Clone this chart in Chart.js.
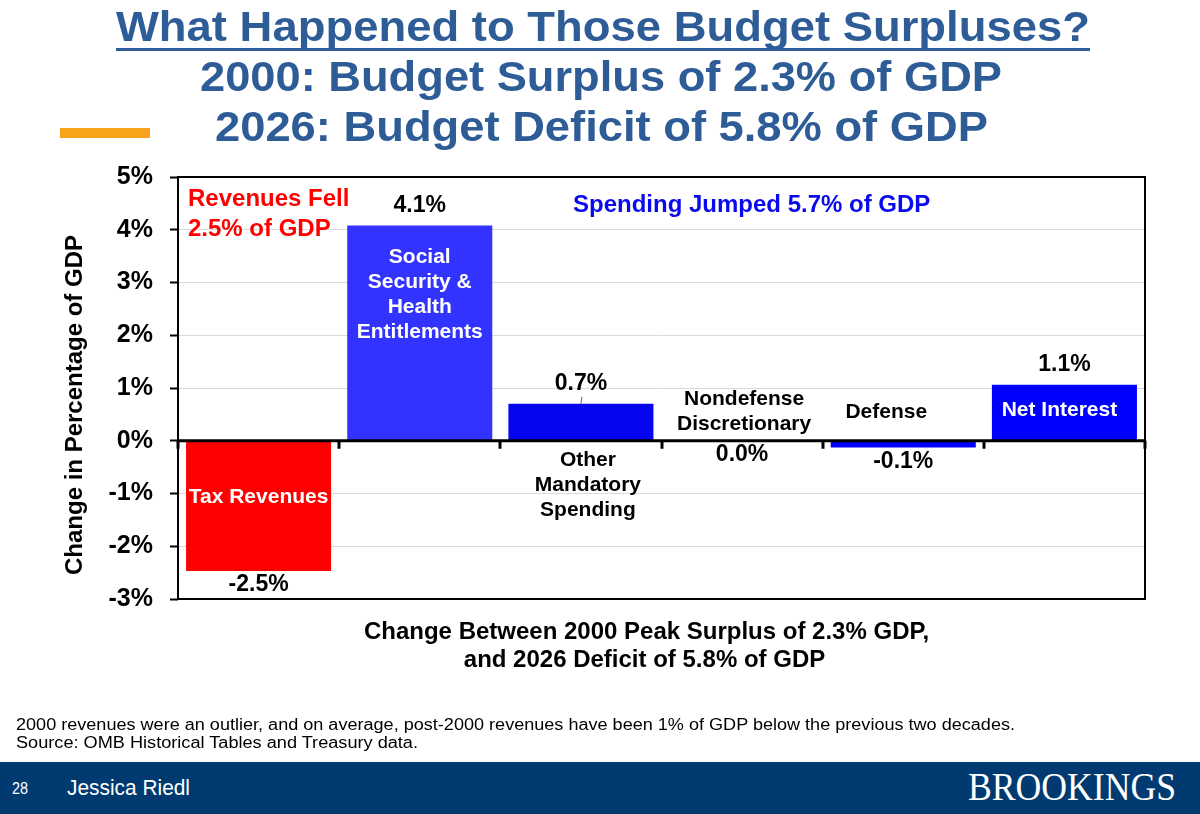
<!DOCTYPE html>
<html>
<head>
<meta charset="utf-8">
<title>What Happened to Those Budget Surpluses?</title>
<script src="https://cdn.jsdelivr.net/npm/chart.js@4.4.1/dist/chart.umd.min.js"></script>
<style>
  html, body { margin: 0; padding: 0; background: #fff; width: 1200px; height: 814px; overflow: hidden; }
  body { position: relative; font-family: "Liberation Sans", Arial, sans-serif; }
  #chart { position: absolute; left: 0; top: 0; }
  .t { position: absolute; white-space: nowrap; line-height: 1; transform-origin: left top; }
  .title { color: #2E5C97; font-weight: bold; font-size: 42px; }
  .note { color: #000; font-size: 16px; }
  .foot { color: #fff; }
</style>
</head>
<body>
<canvas id="chart" width="1200" height="814"></canvas>

<div class="t title" data-w="974" style="left:116px; top:6px;">What Happened to Those Budget Surpluses?</div>
<div style="position:absolute; left:116px; top:48px; width:974px; height:3px; background:#2E5C97;"></div>
<div class="t title" data-w="802" style="left:200px; top:56px;">2000: Budget Surplus of 2.3% of GDP</div>
<div class="t title" data-w="773" style="left:215px; top:106px;">2026: Budget Deficit of 5.8% of GDP</div>
<div style="position:absolute; left:60px; top:128px; width:90px; height:10px; background:#F9A21B;"></div>

<div class="t note" data-w="999" style="left:16px; top:717px;">2000 revenues were an outlier, and on average, post-2000 revenues have been 1% of GDP below the previous two decades.</div>
<div class="t note" data-w="402" style="left:16px; top:735px;">Source: OMB Historical Tables and Treasury data.</div>

<div style="position:absolute; left:0; top:762px; width:1200px; height:52px; background:#003A70;"></div>
<div class="t foot" data-w="16" style="left:12px; top:781px; font-size:16px;">28</div>
<div class="t foot" data-w="123" style="left:67px; top:777px; font-size:22px;">Jessica Riedl</div>
<div class="t foot" data-w="208" style="left:968px; top:767px; font-size:40px; font-family:'Liberation Serif','Times New Roman',serif;">BROOKINGS</div>

<script>
// categories (multi-line labels) and change in % of GDP, 2000 -> 2026
const categories = [
  ['Tax Revenues'],
  ['Social', 'Security &', 'Health', 'Entitlements'],
  ['Other', 'Mandatory', 'Spending'],
  ['Nondefense', 'Discretionary'],
  ['Defense'],
  ['Net Interest']
];
const changes = [-2.47, 4.08, 0.70, 0.00, -0.13, 1.06];
const yMin = -3;
const yMax = 5;

const barColors = ['#FF0000', '#3333FF', '#0505F0', '#0000FF', '#0000FF', '#0000FF'];

// where each category name sits, relative to its bar
const namePlace = [
  { ref: 'base', dy: 56, dx: 0, color: '#fff' },
  { ref: 'top', dy: 32, dx: 0, color: '#fff' },
  { ref: 'base', dy: 20, dx: 7, color: '#000' },
  { ref: 'base', dy: -42, dx: 2, color: '#000' },
  { ref: 'base', dy: -29, dx: -17, color: '#000' },
  { ref: 'top', dy: 25, dx: -5, color: '#fff' }
];

const FONT = '"Liberation Sans", Arial, sans-serif';
Chart.defaults.font.family = FONT;
Chart.defaults.color = '#000';

// fit html text to its measured width in the slide
document.querySelectorAll('[data-w]').forEach(function (el) {
  var w = el.getBoundingClientRect().width;
  el.style.transform = 'scaleX(' + (parseFloat(el.dataset.w) / w) + ')';
});

const decor = {
  id: 'decor',
  afterDatasetsDraw: function (chart) {
    var ctx = chart.ctx;
    var area = chart.chartArea;
    var x = chart.scales.x, y = chart.scales.y;
    var meta = chart.getDatasetMeta(0);
    var y0 = y.getPixelForValue(0);
    ctx.save();

    // frame
    ctx.strokeStyle = '#000';
    ctx.lineWidth = 2;
    ctx.strokeRect(area.left, area.top, area.right - area.left, area.bottom - area.top);

    // zero line and category ticks
    ctx.lineWidth = 3;
    ctx.beginPath();
    ctx.moveTo(area.left, y0);
    ctx.lineTo(area.right, y0);
    ctx.stroke();
    for (var k = 0; k <= categories.length; k++) {
      var tx = Math.round(x.getPixelForValue(k - 0.5));
      ctx.beginPath();
      ctx.moveTo(tx, y0);
      ctx.lineTo(tx, y0 + 8);
      ctx.stroke();
    }

    ctx.textAlign = 'center';
    ctx.textBaseline = 'middle';

    meta.data.forEach(function (bar, i) {
      var v = changes[i];
      // value labels
      ctx.fillStyle = '#000';
      ctx.font = 'bold 23px ' + FONT;
      var vy = v > 0 ? bar.y - 20 : bar.y + 14;
      ctx.fillText(v.toFixed(1) + '%', bar.x, vy);
      // category names
      var p = namePlace[i];
      var cy = (p.ref === 'top' ? bar.y : bar.base) + p.dy;
      ctx.fillStyle = p.color;
      ctx.font = 'bold 21px ' + FONT;
      categories[i].forEach(function (line, j) {
        ctx.fillText(line, bar.x + p.dx, cy + j * 25);
      });
    });

    // tiny leader for other mandatory label
    var om = meta.data[2];
    ctx.strokeStyle = '#666';
    ctx.lineWidth = 1;
    ctx.beginPath();
    ctx.moveTo(om.x + 1, om.y - 7);
    ctx.lineTo(om.x, om.y);
    ctx.stroke();

    // annotations
    ctx.textAlign = 'left';
    ctx.font = 'bold 24px ' + FONT;
    ctx.fillStyle = '#FF0000';
    ctx.fillText('Revenues Fell', area.left + 10, area.top + 22);
    ctx.fillText('2.5% of GDP', area.left + 10, area.top + 52);
    ctx.fillStyle = '#0A0AF0';
    ctx.fillText('Spending Jumped 5.7% of GDP', area.left + 395, area.top + 28);

    // axis titles
    ctx.fillStyle = '#000';
    ctx.textAlign = 'center';
    ctx.font = 'bold 24px ' + FONT;
    var mid = (area.left + area.right) / 2;
    ctx.fillText('Change Between 2000 Peak Surplus of 2.3% GDP,', mid - 15, area.bottom + 33);
    ctx.fillText('and 2026 Deficit of 5.8% of GDP', mid - 17, area.bottom + 61);

    ctx.translate(75, 405);
    ctx.rotate(-Math.PI / 2);
    ctx.fillText('Change in Percentage of GDP', 0, 0);
    ctx.restore();
  }
};

new Chart(document.getElementById('chart'), {
  type: 'bar',
  data: {
    labels: categories,
    datasets: [{
      data: changes,
      backgroundColor: barColors,
      borderWidth: 0,
      barPercentage: 0.9,
      categoryPercentage: 1.0
    }]
  },
  options: {
    responsive: false,
    animation: false,
    devicePixelRatio: 1,
    layout: { padding: { left: 0, top: 177, right: 55, bottom: 215 } },
    plugins: { legend: { display: false }, tooltip: { enabled: false } },
    scales: {
      x: { display: false },
      y: {
        min: yMin,
        max: yMax,
        afterFit: function (scale) { scale.width = 178; },
        border: { display: false },
        grid: { color: '#D9D9D9', lineWidth: 1, tickColor: '#000', tickLength: 8, tickWidth: 2 },
        ticks: {
          stepSize: 1,
          padding: 17,
          color: '#000',
          font: { size: 25, weight: 'bold' },
          callback: function (v) { return v + '%'; }
        }
      }
    }
  },
  plugins: [decor]
});
</script>
</body>
</html>
